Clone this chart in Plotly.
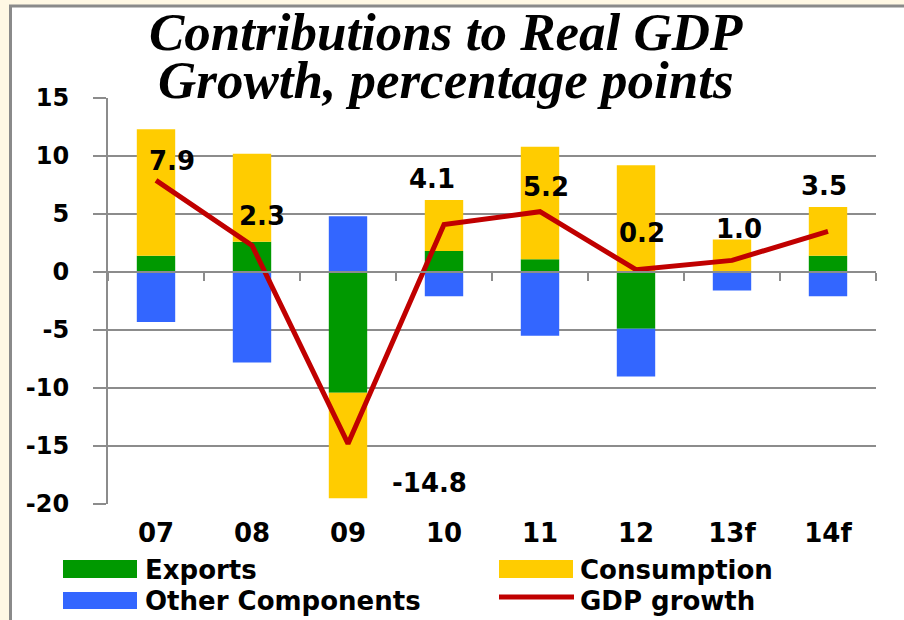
import plotly.graph_objects as go

# ---- data ----
categories = ["07", "08", "09", "10", "11", "12", "13f", "14f"]
exports = [1.4, 2.6, -10.4, 1.8, 1.1, -4.9, 0.0, 1.4]
consumption = [10.9, 7.6, -9.1, 4.4, 9.7, 9.2, 2.8, 4.2]
other_components = [-4.3, -7.8, 4.8, -2.1, -5.5, -4.1, -1.6, -2.1]
gdp_growth = [7.9, 2.3, -14.8, 4.1, 5.2, 0.2, 1.0, 3.5]
y_tick_values = [-20, -15, -10, -5, 0, 5, 10, 15]
y_tick_labels = ["-20", "-15", "-10", "-5", "0", "5", "10", "15"]

# label offsets (pixels) for the GDP value labels
label_dx = [16, 10, 81, -12, 6, 6, 7, -4]
label_dy = [19, 29, -39, 45, 25, 37, 31, 45]

# ---- layout geometry ----
W, H = 904, 620
ML, MR, MT, MB = 108, 28, 98, 116
PW, PH = W - ML - MR, H - MT - MB


def px(x):
    return (x - ML) / PW


def py(y):
    return (H - MB - y) / PH


GREEN = "#009900"
YELLOW = "#FFCC00"
BLUE = "#3366FF"
RED = "#C00000"
GRID = "#8C8C8C"
BEIGE = "#FFF8E4"
BOLD = dict(family="DejaVu Sans", weight="bold", color="black")

fig = go.Figure()
fig.add_trace(go.Bar(x=categories, y=exports, name="Exports", marker_color=GREEN,
                     marker_line_width=0, width=0.4))
fig.add_trace(go.Bar(x=categories, y=consumption, name="Consumption", marker_color=YELLOW,
                     marker_line_width=0, width=0.4))
fig.add_trace(go.Bar(x=categories, y=other_components, name="Other Components",
                     marker_color=BLUE, marker_line_width=0, width=0.4))
fig.add_trace(go.Scatter(x=categories, y=gdp_growth, name="GDP growth", mode="lines",
                         line=dict(color=RED, width=5), xaxis="x2"))

annotations = []
for i, (v, dx, dy) in enumerate(zip(gdp_growth, label_dx, label_dy)):
    annotations.append(dict(x=i, y=v, xref="x", yref="y", text=f"{v:.1f}", showarrow=False,
                            xshift=dx, yshift=dy, font=dict(size=26, **BOLD)))

# title
title_font = dict(family="Liberation Serif", size=53, color="black", weight="bold", style="italic")
annotations.append(dict(x=px(446), y=py(32), xref="paper", yref="paper",
                        text="Contributions to Real GDP", showarrow=False,
                        xanchor="center", yanchor="middle", font=title_font))
annotations.append(dict(x=px(446), y=py(80), xref="paper", yref="paper",
                        text="Growth, percentage points", showarrow=False,
                        xanchor="center", yanchor="middle", font=title_font))

# custom legend
legend_items = [
    ("Exports", GREEN, "bar", 63, 137, 560, 578, 143, 570),
    ("Other Components", BLUE, "bar", 63, 137, 592, 609, 143, 601),
    ("Consumption", YELLOW, "bar", 499, 573, 560, 578, 578, 570),
    ("GDP growth", RED, "line", 499, 574, 597, 597, 578, 601),
]
shapes = []
for name, col, kind, x0, x1, y0, y1, tx, ty in legend_items:
    if kind == "bar":
        shapes.append(dict(type="rect", xref="paper", yref="paper", x0=px(x0), x1=px(x1),
                           y0=py(y0), y1=py(y1), fillcolor=col, line_width=0))
    else:
        shapes.append(dict(type="line", xref="paper", yref="paper", x0=px(x0), x1=px(x1),
                           y0=py(y0), y1=py(y1), line=dict(color=col, width=5)))
    annotations.append(dict(x=px(tx), y=py(ty), xref="paper", yref="paper", text=name,
                            showarrow=False, xanchor="left", yanchor="middle",
                            font=dict(size=26, **BOLD)))

# beige frame edges and grey border
shapes += [
    dict(type="rect", xref="paper", yref="paper", x0=px(0), x1=px(9), y0=py(0), y1=py(H),
         fillcolor=BEIGE, line_width=0, layer="below"),
    dict(type="rect", xref="paper", yref="paper", x0=px(0), x1=px(W), y0=py(0), y1=py(5),
         fillcolor=BEIGE, line_width=0, layer="below"),
    dict(type="line", xref="paper", yref="paper", x0=px(10.5), x1=px(10.5), y0=py(5), y1=py(H),
         line=dict(color="#8A8A8A", width=3)),
    dict(type="line", xref="paper", yref="paper", x0=px(9), x1=px(W), y0=py(6), y1=py(6),
         line=dict(color="#8A8A8A", width=3)),
]

fig.update_layout(
    width=W, height=H,
    margin=dict(l=ML, r=MR, t=MT, b=MB),
    paper_bgcolor="white", plot_bgcolor="white",
    barmode="relative", bargap=0.6,
    showlegend=False,
    xaxis=dict(type="category", range=[-0.5, 7.5], showline=False, ticks="",
               showgrid=False, zeroline=False, tickfont=dict(size=26, **BOLD),
               ticklabelstandoff=11),
    xaxis2=dict(type="category", overlaying="x", anchor="free", position=20 / 35,
                range=[-0.5, 7.5], showticklabels=False, ticks="outside", ticklen=8,
                tickwidth=2, tickcolor=GRID, tickson="boundaries", showline=True,
                linecolor=GRID, linewidth=2, showgrid=False, zeroline=False),
    yaxis=dict(range=[-20, 15], tickvals=y_tick_values, ticktext=y_tick_labels,
               showgrid=True, gridcolor=GRID, gridwidth=2, zeroline=False,
               showline=True, linecolor=GRID, linewidth=2, ticks="outside", ticklen=13,
               tickwidth=2, tickcolor=GRID, tickfont=dict(size=24, **BOLD),
               ticklabelstandoff=19),
    annotations=annotations,
    shapes=shapes,
)

fig.write_html("out.html", config={"displayModeBar": False},
               post_script="document.body.style.margin='0';")
